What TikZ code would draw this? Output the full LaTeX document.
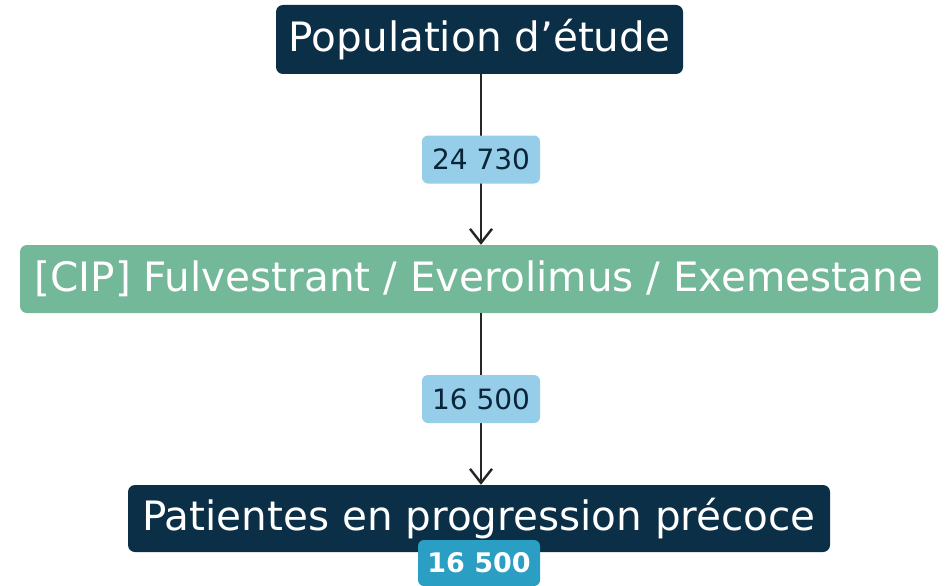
\documentclass[tikz,border=0pt]{standalone}
\usepackage{fontspec}
\setmainfont{DejaVu Sans}
\usepackage{tikz}
\usetikzlibrary{arrows.meta}
\usepackage{xcolor}
\definecolor{StepNavy}{HTML}{0B2F47}
\definecolor{StepGreen}{HTML}{74B89A}
\definecolor{CountBlue}{HTML}{96CDE9}
\definecolor{BadgeBlue}{HTML}{2A9EC3}

\tikzset{
  stepbox/.style={draw=none, rounded corners=7pt, inner sep=0pt, text=white,
    font=\fontsize{40.5}{46}\selectfont},
  countlbl/.style={fill=CountBlue, rounded corners=6pt, inner sep=0pt,
    minimum width=118pt, minimum height=48pt, text=StepNavy!80!black,
    font=\fontsize{28}{32}\selectfont},
  badge/.style={fill=BadgeBlue, rounded corners=6pt, inner sep=0pt,
    minimum width=122pt, minimum height=46pt, text=white,
    font=\bfseries\fontsize{27}{31}\selectfont},
  flow/.style={line width=2.4pt, draw=black!85, -{Straight Barb[length=14pt,width=22pt,line width=2.4pt]}}
}

\begin{document}
\begin{tikzpicture}[x=1pt,y=-1pt]
    \useasboundingbox (0,0) rectangle (948,586);

    \node[stepbox, fill=StepNavy, minimum width=407pt, minimum height=69pt] (pop) at (479.5,39.5) {Population d’étude};
    \node[stepbox, fill=StepGreen, minimum width=918pt, minimum height=68pt] (cip) at (479,279) {[CIP] Fulvestrant / Everolimus / Exemestane};
    \node[stepbox, fill=StepNavy, minimum width=702pt, minimum height=67pt] (pat) at (479,518.5) {Patientes en progression précoce};

    \draw[flow] (pop.south -| 481,0) -- (cip.north -| 481,0) node[midway, countlbl] (n1) {24 730};
    \draw[flow] (cip.south -| 481,0) -- (pat.north -| 481,0) node[midway, countlbl] (n2) {16 500};

    \node[badge] (tot) at (479,563) {16 500};
\end{tikzpicture}
\end{document}
